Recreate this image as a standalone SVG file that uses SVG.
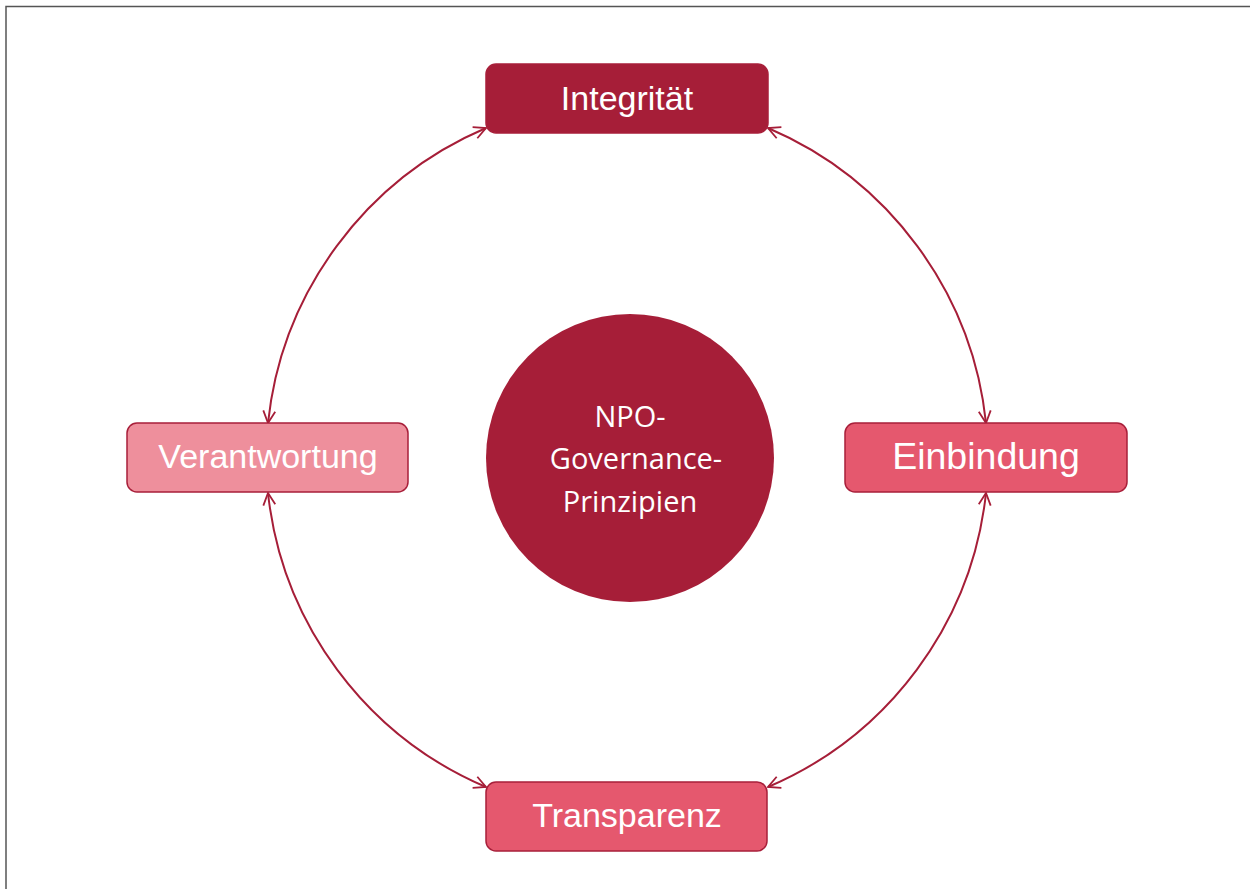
<svg xmlns="http://www.w3.org/2000/svg" width="1250" height="889" viewBox="0 0 1250 889">
<style>
.box{stroke:#a81f3a;stroke-width:1.5}
.lbl{font-family:"Liberation Sans",Arial,sans-serif;fill:#fff;text-anchor:middle;font-size:34px}
.ctr{font-family:"Open Sans","Noto Sans",sans-serif;fill:#fff;text-anchor:middle;font-size:29px}
.arc{fill:none;stroke:#a61e38;stroke-width:2;marker-start:url(#ah);marker-end:url(#ah)}
</style>
<defs>
<marker id="ah" markerUnits="userSpaceOnUse" viewBox="0 0 14 14" refX="13" refY="7" markerWidth="14" markerHeight="14" orient="auto-start-reverse">
<path d="M1,1 L13,7 L1,13" fill="none" stroke="#a61e38" stroke-width="1.8"/>
</marker>
</defs>
<rect width="1250" height="889" fill="#fff"/>
<path d="M6,889 V6.5 H1250" fill="none" stroke="#555" stroke-width="1.5"/>
<g id="connectors">
<path class="arc" d="M486,128 A362,362 0 0 0 268,423"/>
<path class="arc" d="M768,128 A362,362 0 0 1 986,423"/>
<path class="arc" d="M986,493 A362,362 0 0 1 768,787"/>
<path class="arc" d="M268,493 A362,362 0 0 0 486,787"/>
</g>
<g id="center">
<circle cx="630" cy="458" r="144" fill="#a61e38"/>
<text class="ctr" x="630" y="427">NPO-</text>
<text class="ctr" x="636" y="469">Governance-</text>
<text class="ctr" x="630" y="512">Prinzipien</text>
</g>
<g id="integritaet">
<rect class="box" x="486" y="64" width="282" height="69" rx="10" fill="#a61e38"/>
<text class="lbl" x="627" y="110">Integrität</text>
</g>
<g id="verantwortung">
<rect class="box" x="127" y="423" width="281" height="69" rx="10" fill="#ee8f9c"/>
<text class="lbl" x="268" y="468">Verantwortung</text>
</g>
<g id="einbindung">
<rect class="box" x="845" y="423" width="282" height="69" rx="10" fill="#e5586e"/>
<text class="lbl" x="986" y="469" style="font-size:37.5px">Einbindung</text>
</g>
<g id="transparenz">
<rect class="box" x="486" y="782" width="281" height="69" rx="10" fill="#e5586e"/>
<text class="lbl" x="627" y="827">Transparenz</text>
</g>
</svg>
